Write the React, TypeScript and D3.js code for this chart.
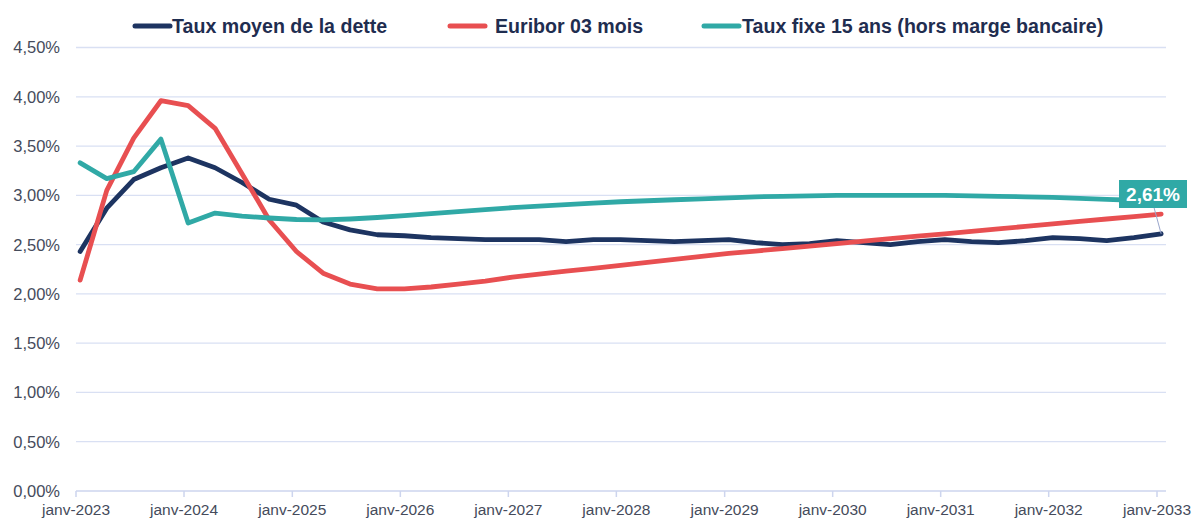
import * as d3 from "d3";
import { useEffect, useRef } from "react";

const WIDTH = 1199;
const HEIGHT = 519;

// quarterly points, jan 2023 -> jan 2033
const DATES = d3.range(41).map((i) => new Date(2023, i * 3, 15));

const YEAR_TICKS = [
  "janv-2023", "janv-2024", "janv-2025", "janv-2026", "janv-2027", "janv-2028",
  "janv-2029", "janv-2030", "janv-2031", "janv-2032", "janv-2033",
];

const Y_TICKS = [0, 0.5, 1, 1.5, 2, 2.5, 3, 3.5, 4, 4.5];

const TAUX_MOYEN = [
  2.43, 2.87, 3.16, 3.28, 3.38, 3.28, 3.13, 2.96, 2.9, 2.73, 2.65, 2.6, 2.59, 2.57,
  2.56, 2.55, 2.55, 2.55, 2.53, 2.55, 2.55, 2.54, 2.53, 2.54, 2.55, 2.52, 2.5, 2.51,
  2.54, 2.52, 2.5, 2.53, 2.55, 2.53, 2.52, 2.54, 2.57, 2.56, 2.54, 2.57, 2.61,
];

const EURIBOR = [
  2.14, 3.05, 3.58, 3.96, 3.91, 3.68, 3.22, 2.75, 2.43, 2.21, 2.1, 2.05, 2.05, 2.07,
  2.1, 2.13, 2.17, 2.2, 2.23, 2.26, 2.29, 2.32, 2.35, 2.38, 2.41, 2.435, 2.46, 2.485,
  2.51, 2.535, 2.56, 2.585, 2.61, 2.635, 2.66, 2.685, 2.71, 2.735, 2.76, 2.785, 2.81,
];

const TAUX_FIXE = [
  3.33, 3.17, 3.24, 3.57, 2.72, 2.82, 2.79, 2.77, 2.755, 2.75, 2.76, 2.775, 2.795, 2.815,
  2.835, 2.855, 2.875, 2.89, 2.905, 2.92, 2.935, 2.945, 2.955, 2.965, 2.975, 2.985, 2.99, 2.995,
  3.0, 3.0, 3.0, 3.0, 3.0, 2.995, 2.99, 2.985, 2.98, 2.97, 2.96, 2.95, 2.94,
];

const SERIES = [
  { label: "Taux moyen de la dette", values: TAUX_MOYEN, color: "#1d3461" },
  { label: "Euribor 03 mois", values: EURIBOR, color: "#e84f51" },
  { label: "Taux fixe 15 ans (hors marge bancaire)", values: TAUX_FIXE, color: "#30a9a6" },
];

// legend sample start, and text start
const LEGEND_X = [133, 448, 702];
const LEGEND_TEXT_X = [172, 495, 742];

const fmtPct = (v: number) => v.toFixed(2).replace(".", ",") + "%";

export default function App() {
  const svgRef = useRef<SVGSVGElement>(null);

  useEffect(() => {
    document.body.style.margin = "0";
    if (!svgRef.current) return;

    const svg = d3.select(svgRef.current);
    svg.selectAll("*").remove();

    const x = d3
      .scaleTime()
      .domain([new Date(2023, 0, 1), new Date(2033, 0, 1)])
      .range([76, 1157]);
    const y = d3.scaleLinear().domain([0, 4.5]).range([491, 47.5]);

    const font = "Liberation Sans, Arial, sans-serif";

    // gridlines
    svg
      .append("g")
      .selectAll("line")
      .data(Y_TICKS.filter((d) => d > 0))
      .join("line")
      .attr("x1", 76)
      .attr("x2", 1166)
      .attr("y1", (d) => y(d))
      .attr("y2", (d) => y(d))
      .attr("stroke", "#d9e0f3")
      .attr("stroke-width", 1.3);

    // y labels
    svg
      .append("g")
      .selectAll("text")
      .data(Y_TICKS)
      .join("text")
      .attr("x", 60)
      .attr("y", (d) => y(d))
      .attr("dy", "0.36em")
      .attr("text-anchor", "end")
      .attr("font-family", font)
      .attr("font-size", 16.5)
      .attr("fill", "#454b5b")
      .text(fmtPct);

    // x axis
    const years = YEAR_TICKS.map((_, i) => new Date(2023 + i, 0, 1));
    const xAxis = svg.append("g");
    xAxis
      .append("line")
      .attr("x1", 76)
      .attr("x2", 1166)
      .attr("y1", y(0))
      .attr("y2", y(0))
      .attr("stroke", "#cdd5ee")
      .attr("stroke-width", 1.5);
    xAxis
      .selectAll("line.tick")
      .data(years)
      .join("line")
      .attr("class", "tick")
      .attr("x1", (d) => x(d))
      .attr("x2", (d) => x(d))
      .attr("y1", y(0))
      .attr("y2", y(0) + 6)
      .attr("stroke", "#cdd5ee")
      .attr("stroke-width", 1.5);
    xAxis
      .selectAll("text")
      .data(years)
      .join("text")
      .attr("x", (d) => x(d))
      .attr("y", 515)
      .attr("text-anchor", "middle")
      .attr("font-family", font)
      .attr("font-size", 15.5)
      .attr("fill", "#454b5b")
      .text((_, i) => YEAR_TICKS[i]);

    // lines
    const line = d3
      .line<number>()
      .x((_, i) => x(DATES[i]))
      .y((d) => y(d));

    svg
      .append("g")
      .selectAll("path")
      .data(SERIES)
      .join("path")
      .attr("d", (s) => line(s.values))
      .attr("fill", "none")
      .attr("stroke", (s) => s.color)
      .attr("stroke-width", 4.8)
      .attr("stroke-linejoin", "round")
      .attr("stroke-linecap", "round");

    // data label for last value of the debt rate
    const last = TAUX_MOYEN[TAUX_MOYEN.length - 1];
    const lx = x(DATES[DATES.length - 1]);
    const ly = y(last);
    svg
      .append("line")
      .attr("x1", lx - 7)
      .attr("y1", 208)
      .attr("x2", lx)
      .attr("y2", ly)
      .attr("stroke", "#9aa6cc")
      .attr("stroke-width", 1);
    svg
      .append("rect")
      .attr("x", 1119)
      .attr("y", 180)
      .attr("width", 68)
      .attr("height", 28)
      .attr("fill", "#30a9a6");
    svg
      .append("text")
      .attr("x", 1153)
      .attr("y", 201)
      .attr("text-anchor", "middle")
      .attr("font-family", font)
      .attr("font-size", 19)
      .attr("font-weight", "bold")
      .attr("fill", "#ffffff")
      .text(fmtPct(last));

    // legend
    const legend = svg
      .append("g")
      .selectAll("g")
      .data(SERIES)
      .join("g");
    legend
      .append("line")
      .attr("x1", (_, i) => LEGEND_X[i] + 2)
      .attr("x2", (_, i) => LEGEND_X[i] + 37)
      .attr("y1", 26)
      .attr("y2", 26)
      .attr("stroke", (s) => s.color)
      .attr("stroke-width", 5)
      .attr("stroke-linecap", "round");
    legend
      .append("text")
      .attr("x", (_, i) => LEGEND_TEXT_X[i])
      .attr("y", 33)
      .attr("font-family", font)
      .attr("font-size", 19.6)
      .attr("font-weight", "bold")
      .attr("fill", "#1f2d50")
      .text((s) => s.label);
  }, []);

  return <svg ref={svgRef} width={WIDTH} height={HEIGHT} style={{ display: "block" }} />;
}
